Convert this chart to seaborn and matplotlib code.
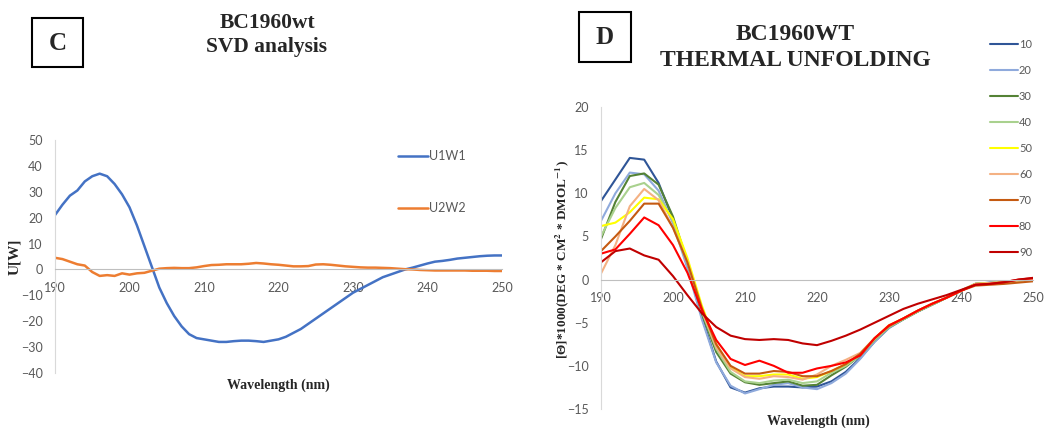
import numpy as np
import pandas as pd
import matplotlib
matplotlib.use("Agg")
import matplotlib.pyplot as plt
from matplotlib.patches import Rectangle
import seaborn as sns

# --- Panel C: SVD components (1 nm steps)
svd_wl = list(range(190, 251))
u1w1 = [21, 25, 28.5, 30.5, 34, 36, 37, 36, 33, 29,
        24, 17, 9, 1, -7, -13, -18, -22, -25, -26.5,
        -27, -27.5, -28, -28, -27.7, -27.5, -27.5, -27.7, -28, -27.5,
        -27, -26, -24.5, -23, -21, -19, -17, -15, -13, -11,
        -9, -7.5, -6, -4.5, -3, -2, -1, 0, 0.7, 1.5,
        2.3, 3, 3.3, 3.7, 4.2, 4.5, 4.8, 5.1, 5.3, 5.4, 5.4]
u2w2 = [4.5, 4, 3, 2, 1.5, -1, -2.5, -2.2, -2.5, -1.5,
        -2, -1.5, -1.3, -0.5, 0.3, 0.5, 0.6, 0.5, 0.5, 0.8,
        1.3, 1.7, 1.8, 2, 2, 2, 2.2, 2.5, 2.3, 2,
        1.8, 1.5, 1.2, 1.2, 1.3, 1.9, 2, 1.8, 1.5, 1.2,
        1, 0.8, 0.7, 0.7, 0.6, 0.5, 0.3, 0.1, 0, -0.2,
        -0.3, -0.4, -0.4, -0.4, -0.4, -0.4, -0.5, -0.5, -0.5, -0.6, -0.6]

# --- Panel D: thermal unfolding (2 nm steps)
cd_wl = list(range(190, 251, 2))
temps = ["10", "20", "30", "40", "50", "60", "70", "80", "90"]
t10 = [9.1, 11.6, 14.1, 13.9, 11.2, 7.0, 1.5, -4.3, -9.5, -12.5, -13.1, -12.6, -12.4, -12.4, -12.5, -12.4,
       -11.8, -10.7, -9.1, -7.2, -5.6, -4.6, -3.7, -2.9, -2.1, -1.3, -0.5, -0.35, -0.35, -0.1, 0.1]
t20 = [6.8, 10.0, 12.4, 12.2, 10.3, 6.5, 1.3, -4.6, -9.6, -12.3, -13.2, -12.7, -12.2, -12.0, -12.5, -12.7,
       -12.0, -10.9, -9.2, -7.2, -5.6, -4.6, -3.7, -2.9, -2.1, -1.3, -0.5, -0.4, -0.35, -0.1, 0.05]
t30 = [4.7, 9.0, 12.0, 12.3, 11.0, 7.3, 2.0, -3.9, -8.4, -10.9, -11.9, -12.2, -12.0, -11.8, -12.3, -12.2,
       -11.1, -10.1, -8.8, -7.0, -5.5, -4.6, -3.7, -2.9, -2.1, -1.3, -0.5, -0.4, -0.35, -0.1, 0.05]
t40 = [5.0, 8.3, 10.7, 11.2, 9.8, 6.8, 2.0, -3.7, -8.0, -10.7, -11.8, -12.0, -11.7, -11.6, -12.0, -11.8,
       -10.8, -10.0, -8.8, -7.0, -5.5, -4.6, -3.7, -2.9, -2.1, -1.3, -0.5, -0.4, -0.35, -0.1, 0.05]
t50 = [6.2, 6.6, 7.8, 9.5, 9.3, 7.0, 2.5, -3.0, -7.5, -10.2, -11.2, -11.2, -11.0, -11.0, -11.5, -11.3,
       -10.6, -9.8, -8.6, -6.8, -5.3, -4.5, -3.6, -2.8, -2.1, -1.3, -0.5, -0.4, -0.3, -0.1, 0.05]
t60 = [0.7, 4.0, 8.5, 10.5, 9.2, 6.0, 2.0, -3.5, -7.8, -10.3, -11.3, -11.5, -11.2, -11.3, -11.6, -11.0,
       -10.0, -9.3, -8.5, -6.8, -5.4, -4.5, -3.6, -2.8, -2.1, -1.3, -0.5, -0.4, -0.3, -0.1, 0.05]
t70 = [3.3, 5.0, 6.8, 8.8, 8.8, 6.0, 2.0, -3.3, -7.5, -10.0, -10.9, -10.9, -10.6, -10.7, -11.2, -11.2,
       -10.6, -9.8, -8.6, -6.8, -5.4, -4.5, -3.6, -2.8, -2.1, -1.3, -0.7, -0.6, -0.5, -0.35, -0.2]
t80 = [3.0, 3.5, 5.3, 7.2, 6.3, 4.0, 0.8, -3.5, -7.0, -9.2, -9.9, -9.4, -10.0, -10.8, -10.8, -10.3,
       -10.0, -9.6, -8.8, -6.8, -5.3, -4.5, -3.6, -2.8, -2.1, -1.3, -0.6, -0.5, -0.3, 0.0, 0.15]
t90 = [2.0, 3.3, 3.6, 2.8, 2.3, 0.4, -1.8, -3.9, -5.5, -6.5, -6.9, -7.0, -6.9, -7.0, -7.4, -7.6,
       -7.1, -6.5, -5.8, -5.0, -4.2, -3.4, -2.8, -2.3, -1.8, -1.2, -0.6, -0.5, -0.3, 0.0, 0.2]
cd_colors = ["#2F5597", "#8FAADC", "#548235", "#A9D18E", "#FFFF00",
             "#F4B183", "#C55A11", "#FF0000", "#C00000"]

sns.set_style("white")
plt.rcParams["font.family"] = ["Lato", "DejaVu Sans"]
plt.rcParams["mathtext.fontset"] = "stix"
serif = ["Liberation Serif", "DejaVu Serif"]
tick_col = "#595959"
W, H = 1045, 428

svd = pd.DataFrame({"wl": svd_wl * 2, "val": u1w1 + u2w2,
                    "comp": ["U1W1"] * len(svd_wl) + ["U2W2"] * len(svd_wl)})
series = [t10, t20, t30, t40, t50, t60, t70, t80, t90]
cd = pd.DataFrame({"wl": cd_wl * len(temps),
                   "val": sum(series, []),
                   "temp": sum([[t] * len(cd_wl) for t in temps], [])})

fig = plt.figure(figsize=(W / 100, H / 100), dpi=100)


def fx(px):
    return px / W


def fy(py):
    return 1 - py / H


def style_axes(ax, fs):
    for s in ["top", "right"]:
        ax.spines[s].set_visible(False)
    ax.spines["left"].set_color("#D9D9D9")
    ax.spines["bottom"].set_color("#BFBFBF")
    ax.spines["bottom"].set_position(("data", 0))
    ax.tick_params(length=0, labelsize=fs, colors=tick_col)
    ax.tick_params(axis="x", pad=9)
    ax.tick_params(axis="y", pad=9)
    ax.set_xlabel("")
    ax.set_ylabel("")


# ---- panel C
ax1 = fig.add_axes([fx(55), fy(373), fx(502 - 55), fy(140) - fy(373)])
sns.lineplot(data=svd, x="wl", y="val", hue="comp", palette=["#4472C4", "#ED7D31"],
             linewidth=1.8, ax=ax1, legend=False)
ax1.set_xlim(190, 250)
ax1.set_ylim(-40, 50)
ax1.set_xticks(range(190, 251, 10))
ax1.set_yticks(range(-40, 51, 10))
style_axes(ax1, 9)
h1 = [plt.Line2D([], [], color=c, lw=1.8) for c in ["#4472C4", "#ED7D31"]]
ax1.legend(h1, ["U1W1", "U2W2"], loc="upper left", bbox_to_anchor=(fx(398), fy(150)),
           bbox_transform=fig.transFigure, frameon=False, fontsize=9, labelspacing=3.2,
           handlelength=2.4, handletextpad=0.1, borderpad=0, borderaxespad=0,
           labelcolor=tick_col)

fig.text(fx(267), fy(23), "BC1960wt", ha="center", va="center", fontsize=15.5,
         fontweight="bold", family=serif)
fig.text(fx(267), fy(47), "SVD analysis", ha="center", va="center", fontsize=15.5,
         fontweight="bold", family=serif)
fig.patches.append(Rectangle((fx(32), fy(67)), fx(51), fy(18) - fy(67), transform=fig.transFigure,
                             fill=False, lw=1.5, color="black"))
fig.text(fx(57.5), fy(43), "C", ha="center", va="center", fontsize=18, fontweight="bold", family=serif)
fig.text(fx(15), fy(257), "U[W]", ha="center", va="center", rotation=90, fontsize=11,
         fontweight="bold", family=serif)
fig.text(fx(278), fy(385), "Wavelength (nm)", ha="center", va="center", fontsize=10,
         fontweight="bold", family=serif)

# ---- panel D
ax2 = fig.add_axes([fx(601), fy(409), fx(1033 - 601), fy(107) - fy(409)])
sns.lineplot(data=cd, x="wl", y="val", hue="temp", hue_order=temps, palette=cd_colors,
             linewidth=1.5, ax=ax2, legend=False)
ax2.set_xlim(190, 250)
ax2.set_ylim(-15, 20)
ax2.set_xticks(range(190, 251, 10))
ax2.set_yticks(range(-15, 21, 5))
style_axes(ax2, 9)
h2 = [plt.Line2D([], [], color=c, lw=1.5) for c in cd_colors]
ax2.legend(h2, temps, loc="upper left", bbox_to_anchor=(fx(990), fy(39)),
           bbox_transform=fig.transFigure, frameon=False, fontsize=8, labelspacing=1.35,
           handlelength=2.5, handletextpad=0.1, borderpad=0, borderaxespad=0,
           labelcolor=tick_col)

fig.text(fx(795), fy(35), "BC1960WT", ha="center", va="center", fontsize=17,
         fontweight="bold", family=serif)
fig.text(fx(795), fy(60), "THERMAL UNFOLDING", ha="center", va="center", fontsize=17,
         fontweight="bold", family=serif)
fig.patches.append(Rectangle((fx(579), fy(62)), fx(52), fy(12) - fy(62), transform=fig.transFigure,
                             fill=False, lw=1.5, color="black"))
fig.text(fx(605), fy(38), "D", ha="center", va="center", fontsize=18, fontweight="bold", family=serif)
fig.text(fx(562), fy(260), "[\u0398]*1000(DEG * CM$^{\\mathbf{2}}$ * DMOL$^{\\mathbf{-1}}$)",
         ha="center", va="center", rotation=90, fontsize=9.5, fontweight="bold", family=serif)
fig.text(fx(818), fy(421), "Wavelength (nm)", ha="center", va="center", fontsize=10,
         fontweight="bold", family=serif)

fig.savefig("out.png", dpi=100)
